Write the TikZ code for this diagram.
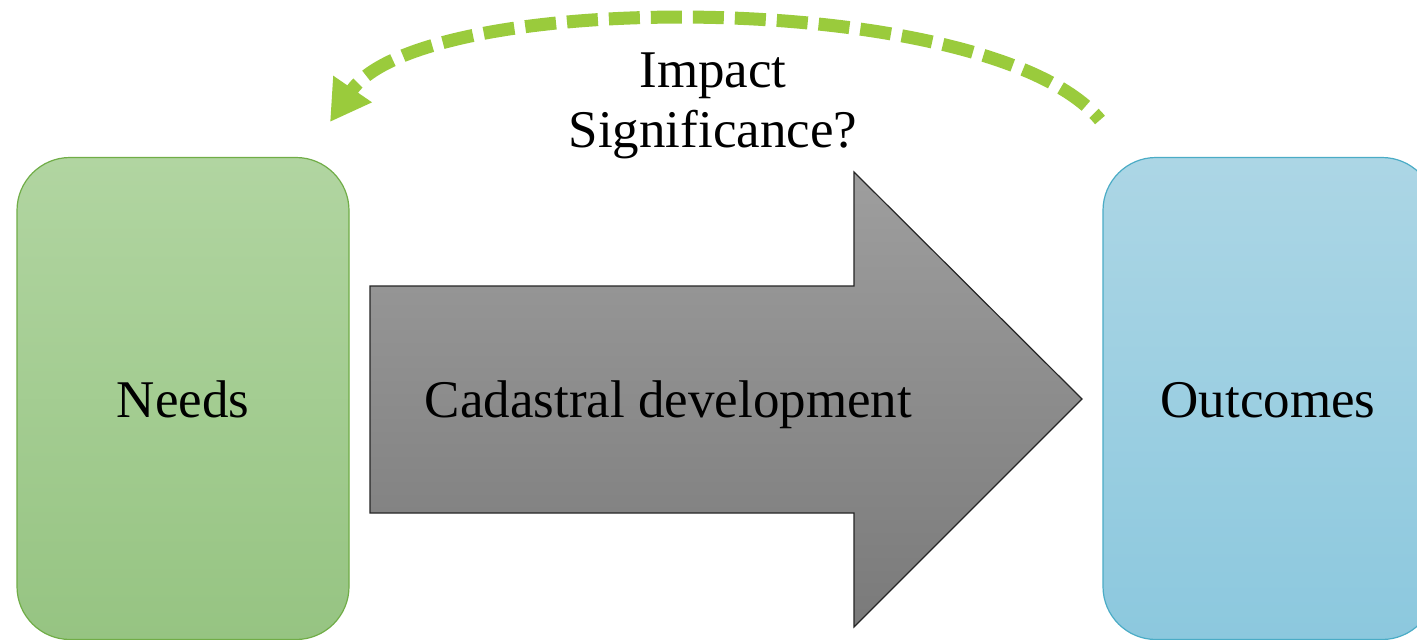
\documentclass[tikz,border=0pt]{standalone}
\usepackage{fontspec}
\setmainfont{Liberation Serif}
\usetikzlibrary{arrows.meta}
\definecolor{needsTop}{RGB}{177,213,161}
\definecolor{needsBot}{RGB}{150,196,130}
\definecolor{needsLine}{RGB}{112,173,71}
\definecolor{outTop}{RGB}{172,214,229}
\definecolor{outBot}{RGB}{140,200,222}
\definecolor{outLine}{RGB}{75,172,198}
\definecolor{arrTop}{RGB}{158,158,158}
\definecolor{arrBot}{RGB}{122,122,122}
\definecolor{arcGreen}{RGB}{154,203,60}
\tikzset{
  boxstyle/.style={rounded corners=53pt, line width=1.2pt, minimum width=332pt, minimum height=482pt, inner sep=0pt},
  labeltext/.style={font=\fontsize{53}{60}\selectfont, text=black, inner sep=0pt},
  bigarrow/.style={draw=black!85, line width=1.2pt, top color=arrTop, bottom color=arrBot},
  dasharc/.style={draw=arcGreen, line width=13pt, dash pattern=on 31pt off 11pt, dash phase=22pt, -{Triangle[length=40pt,width=44pt]}}
}
\begin{document}
\begin{tikzpicture}[x=1pt,y=-1pt]
\clip (0,0) rectangle (1417,640);
\fill[white] (0,0) rectangle (1417,640);
% boxes
\node[boxstyle, draw=needsLine, top color=needsTop, bottom color=needsBot] (needs) at (183,398.5) {};
\node[boxstyle, draw=outLine, top color=outTop, bottom color=outBot] (outcomes) at (1269,398.5) {};
\node[labeltext, anchor=base] (needsT) at (183,417) {Needs};
\node[labeltext, anchor=base] (outT) at (1268,417) {Outcomes};
% big arrow
\path[bigarrow] (370,286) -- (854,286) -- (854,172) -- (1082,399) -- (854,627) -- (854,513) -- (370,513) -- cycle;
\node[labeltext, anchor=base] (dev) at (668.5,417) {Cadastral development};
% dashed arc
\coordinate (arcS) at (1100,120);
\coordinate (arcE) at (330,122);
\draw[dasharc] (arcS) .. controls (990,-12) and (422,-12) .. (arcE);
\node[labeltext, anchor=base] (impact) at (713,87) {Impact};
\node[labeltext, anchor=base] (signif) at (713,147) {Significance?};
\end{tikzpicture}
\end{document}
